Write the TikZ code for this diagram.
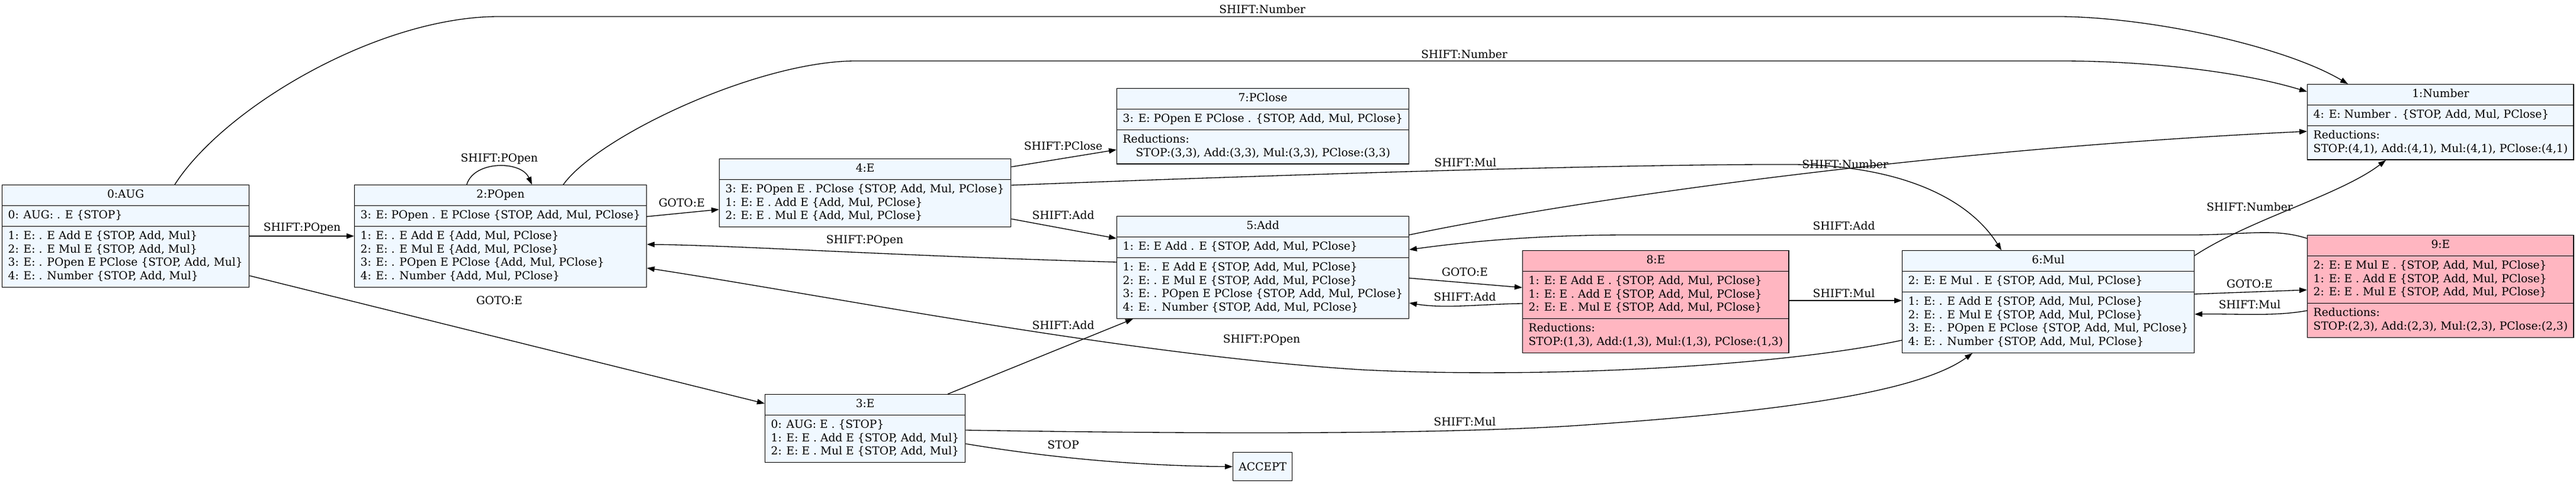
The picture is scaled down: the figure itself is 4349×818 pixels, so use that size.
\documentclass[tikz,border=0pt]{standalone}
\usepackage{fontspec}
\setmainfont{DejaVu Serif}
\usetikzlibrary{shapes.multipart, arrows.meta}
\definecolor{aliceblue}{HTML}{F0F8FF}
\definecolor{lightpink}{HTML}{FFB6C1}
\newcommand{\itemrows}[1]{\begin{tabular}{@{}l@{}}#1\end{tabular}}
\tikzstyle{itemset} = [rectangle split, rectangle split parts=3, rectangle split part align={center,left,left}, draw=black, fill=aliceblue, line width=1.33pt, inner xsep=10pt, inner ysep=5.5pt, anchor=north west, font=\fontsize{18.67}{22.6}\selectfont]
\tikzstyle{reduceset} = [itemset, fill=lightpink]
\tikzstyle{accept} = [rectangle, draw=black, fill=aliceblue, line width=1.33pt, minimum width=100pt, minimum height=48pt, anchor=north west, font=\fontsize{18.67}{22.6}\selectfont]
\tikzstyle{lbl} = [inner sep=0pt, font=\fontsize{18.67}{22.6}\selectfont]
\tikzstyle{arrow} = [line width=1.33pt, -{Triangle[length=13pt,width=9pt]}]

\begin{document}
\begin{tikzpicture}[x=1pt, y=-1pt]
\useasboundingbox (0,0) rectangle (4349,818);

% Left column
\node (s0) [itemset, minimum width=417pt] at (3,312) {\strut 0:AUG
  \nodepart{two}\itemrows{0: AUG: . E \{STOP\}}
  \nodepart{three}\itemrows{1: E: . E Add E \{STOP, Add, Mul\}\\ 2: E: . E Mul E \{STOP, Add, Mul\}\\ 3: E: . POpen E PClose \{STOP, Add, Mul\}\\ 4: E: . Number \{STOP, Add, Mul\}}};
\node (s2) [itemset, minimum width=490pt] at (598,312) {\strut 2:POpen
  \nodepart{two}\itemrows{3: E: POpen . E PClose \{STOP, Add, Mul, PClose\}}
  \nodepart{three}\itemrows{1: E: . E Add E \{Add, Mul, PClose\}\\ 2: E: . E Mul E \{Add, Mul, PClose\}\\ 3: E: . POpen E PClose \{Add, Mul, PClose\}\\ 4: E: . Number \{Add, Mul, PClose\}}};
\node (s4) [itemset, rectangle split parts=2, minimum width=492pt] at (1214,268) {\strut 4:E
  \nodepart{two}\itemrows{3: E: POpen E . PClose \{STOP, Add, Mul, PClose\}\\ 1: E: E . Add E \{Add, Mul, PClose\}\\ 2: E: E . Mul E \{Add, Mul, PClose\}}};
\node (s3) [itemset, rectangle split parts=2, minimum width=338pt] at (1291,666) {\strut 3:E
  \nodepart{two}\itemrows{0: AUG: E . \{STOP\}\\ 1: E: E . Add E \{STOP, Add, Mul\}\\ 2: E: E . Mul E \{STOP, Add, Mul\}}};

% Middle column
\node (s7) [itemset, minimum width=492pt] at (1885,149) {\strut 7:PClose
  \nodepart{two}\itemrows{3: E: POpen E PClose . \{STOP, Add, Mul, PClose\}}
  \nodepart{three}\itemrows{Reductions:\\ \hspace*{22pt}STOP:(3,3), Add:(3,3), Mul:(3,3), PClose:(3,3)}};
\node (s5) [itemset, minimum width=492pt] at (1885,365) {\strut 5:Add
  \nodepart{two}\itemrows{1: E: E Add . E \{STOP, Add, Mul, PClose\}}
  \nodepart{three}\itemrows{1: E: . E Add E \{STOP, Add, Mul, PClose\}\\ 2: E: . E Mul E \{STOP, Add, Mul, PClose\}\\ 3: E: . POpen E PClose \{STOP, Add, Mul, PClose\}\\ 4: E: . Number \{STOP, Add, Mul, PClose\}}};
\node (acc) [accept] at (2081,764) {ACCEPT};
\node (s8) [reduceset, minimum width=447pt] at (2570,423) {\strut 8:E
  \nodepart{two}\itemrows{1: E: E Add E . \{STOP, Add, Mul, PClose\}\\ 1: E: E . Add E \{STOP, Add, Mul, PClose\}\\ 2: E: E . Mul E \{STOP, Add, Mul, PClose\}}
  \nodepart{three}\itemrows{Reductions:\\ STOP:(1,3), Add:(1,3), Mul:(1,3), PClose:(1,3)}};

% Right column
\node (s6) [itemset, minimum width=491pt] at (3211,423) {\strut 6:Mul
  \nodepart{two}\itemrows{2: E: E Mul . E \{STOP, Add, Mul, PClose\}}
  \nodepart{three}\itemrows{1: E: . E Add E \{STOP, Add, Mul, PClose\}\\ 2: E: . E Mul E \{STOP, Add, Mul, PClose\}\\ 3: E: . POpen E PClose \{STOP, Add, Mul, PClose\}\\ 4: E: . Number \{STOP, Add, Mul, PClose\}}};
\node (s1) [itemset, minimum width=448pt] at (3895,142) {\strut 1:Number
  \nodepart{two}\itemrows{4: E: Number . \{STOP, Add, Mul, PClose\}}
  \nodepart{three}\itemrows{Reductions:\\ STOP:(4,1), Add:(4,1), Mul:(4,1), PClose:(4,1)}};
\node (s9) [reduceset, minimum width=448pt] at (3895,397) {\strut 9:E
  \nodepart{two}\itemrows{2: E: E Mul E . \{STOP, Add, Mul, PClose\}\\ 1: E: E . Add E \{STOP, Add, Mul, PClose\}\\ 2: E: E . Mul E \{STOP, Add, Mul, PClose\}}
  \nodepart{three}\itemrows{Reductions:\\ STOP:(2,3), Add:(2,3), Mul:(2,3), PClose:(2,3)}};

% Drawing arrows
\draw [arrow] ([xshift=292pt]s0.north west) .. controls (380,180) and (640,28) .. (842,28) -- (3480,28) .. controls (3640,30) and (3860,80) .. ([xshift=69pt]s1.north west);
\draw [arrow] ([xshift=353pt]s2.north west) .. controls (1010,230) and (1280,103) .. (1445,103) -- (3480,103) .. controls (3620,103) and (3780,120) .. ([yshift=-13pt]s1.north west);
\draw [arrow] ([xshift=190pt]s2.north west) .. controls (800,271) and (880,271) .. ([xshift=300pt]s2.north west);
\draw [arrow] (s0.east) -- (s2.west);
\draw [arrow] ([yshift=-154pt]s0.north east) -- ([yshift=-16pt]s3.north west);
\draw [arrow] ([yshift=-54pt]s2.north east) -- ([yshift=-86pt]s4.north west);
\draw [arrow] ([yshift=-14pt]s4.north east) -- ([yshift=-104pt]s7.north west);
\draw [arrow] ([yshift=-102pt]s4.north east) -- ([yshift=-38pt]s5.north west);
\draw [arrow] ([yshift=-45pt]s4.north east) .. controls (2300,290) and (2800,277) .. (3030,278) .. controls (3200,280) and (3320,330) .. ([xshift=168pt]s6.north west);
\draw [arrow] ([yshift=-32pt]s5.north east) .. controls (2700,330) and (3300,250) .. ([yshift=-80pt]s1.north west);
\draw [arrow] ([yshift=-9pt]s6.north east) .. controls (3800,370) and (3950,330) .. ([xshift=133pt]s1.south west);
\draw [arrow] ([yshift=-6pt]s9.north west) .. controls (3840,385) and (3790,397) .. (3700,397) -- (2750,397) .. controls (2600,397) and (2480,408) .. ([yshift=-57pt]s5.north east);
\draw [arrow] ([yshift=-105pt]s5.north east) -- ([yshift=-63pt]s8.north west);
\draw [arrow] ([yshift=-90pt]s8.north west) .. controls (2500,514) and (2440,522) .. ([yshift=-147pt]s5.north east);
\draw [arrow] ([yshift=-85pt]s8.north east) -- ([yshift=-85pt]s6.north west);
\draw [arrow] ([yshift=-152pt]s6.north west) .. controls (3000,620) and (2600,640) .. (2300,625) .. controls (1900,600) and (1400,500) .. ([yshift=-141pt]s2.north east);
\draw [arrow] ([yshift=-78pt]s5.north west) .. controls (1500,432) and (1250,415) .. ([yshift=-101pt]s2.north east);
\draw [arrow] ([xshift=309pt]s3.north west) -- ([xshift=28pt]s5.south west);
\draw [arrow] ([yshift=-61pt]s3.north east) .. controls (2000,733) and (2400,735) .. (2650,720) .. controls (2950,700) and (3230,670) .. ([xshift=119pt]s6.south west);
\draw [arrow] ([yshift=-84pt]s3.north east) .. controls (1750,770) and (1900,787) .. (acc.west);
\draw [arrow] ([yshift=-74pt]s6.north east) -- ([yshift=-93pt]s9.north west);
\draw [arrow] ([yshift=-128pt]s9.north west) .. controls (3840,535) and (3780,530) .. ([yshift=-108pt]s6.north east);

% Edge labels
\node (l01) [lbl] at (2131,16) {SHIFT:Number};
\node (l21) [lbl] at (2472,92) {SHIFT:Number};
\node (l22) [lbl] at (843,269) {SHIFT:POpen};
\node (l02) [lbl] at (510,386) {SHIFT:POpen};
\node (l03) [lbl] at (843,508) {GOTO:E};
\node (l24) [lbl] at (1151,343) {GOTO:E};
\node (l47) [lbl] at (1795,247) {SHIFT:PClose};
\node (l45) [lbl] at (1795,364) {SHIFT:Add};
\node (l46) [lbl] at (2474,275) {SHIFT:Mul};
\node (l51) [lbl] at (3115,278) {SHIFT:Number};
\node (l61) [lbl] at (3798,350) {SHIFT:Number};
\node (l95) [lbl] at (3113,382) {SHIFT:Add};
\node (l58) [lbl] at (2473,460) {GOTO:E};
\node (l85) [lbl] at (2473,502) {SHIFT:Add};
\node (l86) [lbl] at (3113,496) {SHIFT:Mul};
\node (l62) [lbl] at (2130,575) {SHIFT:POpen};
\node (l52) [lbl] at (1460,407) {SHIFT:POpen};
\node (l35) [lbl] at (1795,550) {SHIFT:Add};
\node (l36) [lbl] at (2473,713) {SHIFT:Mul};
\node (l3a) [lbl] at (1795,752) {STOP};
\node (l69) [lbl] at (3798,480) {GOTO:E};
\node (l96) [lbl] at (3798,515) {SHIFT:Mul};

\end{tikzpicture}
\end{document}
